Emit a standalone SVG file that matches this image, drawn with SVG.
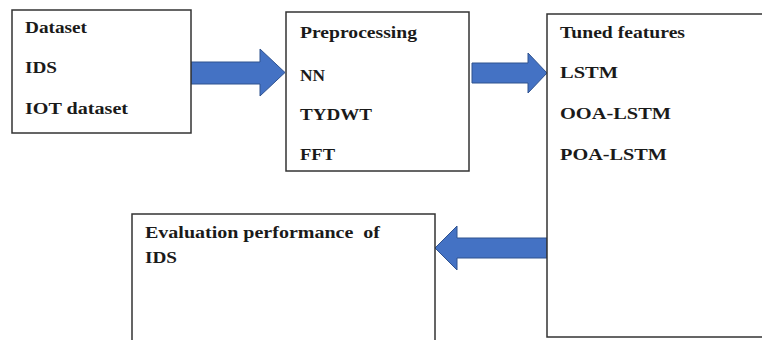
<svg xmlns="http://www.w3.org/2000/svg" width="762" height="340" viewBox="0 0 762 340">
<style>
.box{fill:#fff;stroke:#333;stroke-width:1.5}
.t{font-family:"Liberation Serif","Times New Roman",serif;font-weight:bold;font-size:16px;fill:#1a1a1a}
.arr{fill:#4472C4;stroke:#2F528F;stroke-width:1}
</style>
<rect width="762" height="340" fill="#fff"/>
<g id="connectors">
<polygon class="arr" points="191,62 260,62 260,49 285,72.5 260,96 260,84 191,84"/>
<polygon class="arr" points="472,63 528,63 528,53 547,73 528,93 528,83 472,83"/>
<polygon class="arr" points="547,238 457,238 457,226 435,248 457,270 457,258 547,258"/>
</g>
<g id="dataset">
<rect class="box" x="12" y="10" width="179" height="123"/>
<text class="t" x="25" y="33" textLength="62" lengthAdjust="spacingAndGlyphs">Dataset</text>
<text class="t" x="25" y="73" textLength="32" lengthAdjust="spacingAndGlyphs">IDS</text>
<text class="t" x="25" y="114" textLength="103" lengthAdjust="spacingAndGlyphs">IOT dataset</text>
</g>
<g id="preprocessing">
<rect class="box" x="286" y="12" width="183" height="159"/>
<text class="t" x="300" y="38" textLength="117" lengthAdjust="spacingAndGlyphs">Preprocessing</text>
<text class="t" x="300" y="81" textLength="25" lengthAdjust="spacingAndGlyphs">NN</text>
<text class="t" x="300" y="120" textLength="72" lengthAdjust="spacingAndGlyphs">TYDWT</text>
<text class="t" x="300" y="160" textLength="35" lengthAdjust="spacingAndGlyphs">FFT</text>
</g>
<g id="tuned">
<rect class="box" x="547" y="14" width="240" height="323"/>
<text class="t" x="560" y="38" textLength="125" lengthAdjust="spacingAndGlyphs">Tuned features</text>
<text class="t" x="560" y="78" textLength="58" lengthAdjust="spacingAndGlyphs">LSTM</text>
<text class="t" x="560" y="119" textLength="111" lengthAdjust="spacingAndGlyphs">OOA-LSTM</text>
<text class="t" x="560" y="160" textLength="107" lengthAdjust="spacingAndGlyphs">POA-LSTM</text>
</g>
<g id="evaluation">
<rect class="box" x="132" y="214" width="303" height="140"/>
<text class="t" x="145" y="238" textLength="235" lengthAdjust="spacingAndGlyphs" xml:space="preserve">Evaluation performance  of</text>
<text class="t" x="145" y="263" textLength="32" lengthAdjust="spacingAndGlyphs">IDS</text>
</g>
</svg>
